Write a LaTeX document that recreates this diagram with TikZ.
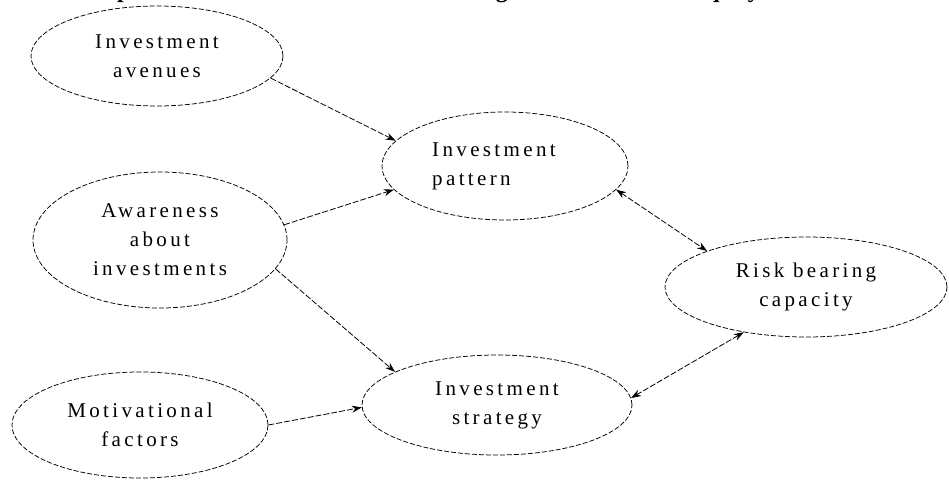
\documentclass[tikz,border=0pt]{standalone}
\usepackage{fontspec}
\setmainfont{Liberation Serif}
\newfontfamily\bubblefont[LetterSpace=16]{Liberation Serif}
\usetikzlibrary{shapes.geometric,arrows.meta}

\tikzset{
  bubble/.style={ellipse,draw,dash pattern=on 5pt off 2pt,line width=0.75pt,
    inner sep=0pt,align=center,font=\bubblefont\fontsize{21}{29}\selectfont},
  link/.style={dash pattern=on 6pt off 2pt,line width=0.8pt,
    -{Stealth[length=10pt,width=7pt]}},
  twoway/.style={link,{Stealth[length=10pt,width=7pt]}-{Stealth[length=10pt,width=7pt]}},
}

\begin{document}
\begin{tikzpicture}[x=1pt,y=-1pt]
\useasboundingbox (0,0) rectangle (949,482);

% title line, cut off at the top edge
\begin{scope}
\clip (0,0) rectangle (949,482);
\node[anchor=base west,inner sep=0pt,font=\bfseries\fontsize{24}{24}\selectfont] (title) at (53,-2.5)
  {Conceptual Framework of Factors Affecting the Behaviour of Equity Investors in Chennai};
\end{scope}

% left column
\node[bubble,minimum width=252pt,minimum height=100pt] (avenues) at (157,56) {Investment\\avenues};
\node[bubble,minimum width=254pt,minimum height=136pt] (awareness) at (160,240) {Awareness\\about\\investments};
\node[bubble,minimum width=256pt,minimum height=106pt] (motives) at (140,425) {Motivational\\factors};

% middle column
\node[bubble,minimum width=246pt,minimum height=108pt,align=left] (pattern) at (505,166) {Investment\hspace*{22pt}\\pattern};
\node[bubble,minimum width=270pt,minimum height=100pt] (strategy) at (497,405) {Investment\\strategy};

% right
\node[bubble,minimum width=282pt,minimum height=100pt] (risk) at (806,287) {Risk bearing\\capacity};

\draw[link] (avenues.-11) -- (pattern.167);
\draw[link] (awareness.7) -- (pattern.192);
\draw[link] (awareness.-14) -- (strategy.162);
\draw[link] (motives.0) -- (strategy.181);
\draw[twoway] (pattern.-12) -- (risk.160);
\draw[twoway] (risk.216) -- (strategy.3);

\end{tikzpicture}
\end{document}
